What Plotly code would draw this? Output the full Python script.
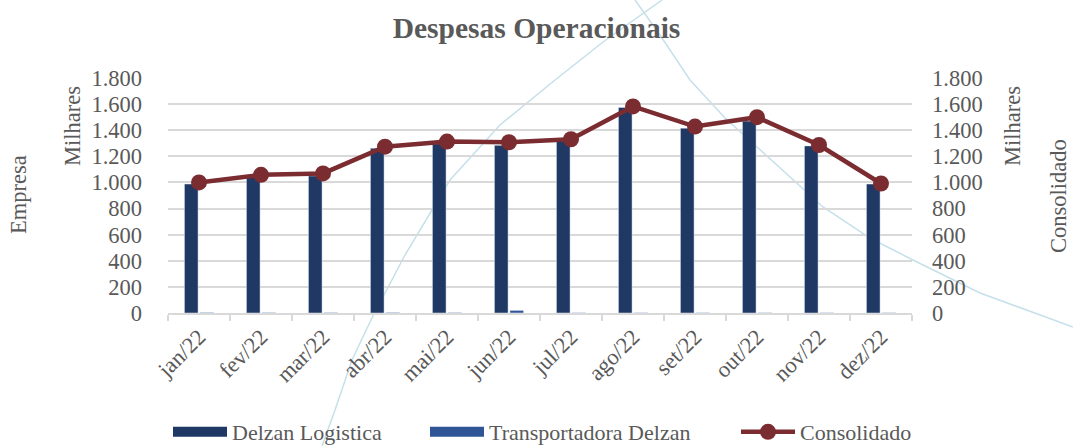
import plotly.graph_objects as go

months = ["jan/22", "fev/22", "mar/22", "abr/22", "mai/22", "jun/22",
          "jul/22", "ago/22", "set/22", "out/22", "nov/22", "dez/22"]
delzan_logistica = [988, 1040, 1050, 1262, 1297, 1284, 1315, 1575, 1416, 1470, 1280, 988]
transportadora_delzan = [4, 3, 3, 4, 3, 20, 2, 2, 2, 2, 2, 2]
consolidado = [1000, 1058, 1069, 1274, 1313, 1308, 1331, 1582, 1428, 1500, 1287, 992]
y_ticks = [0, 200, 400, 600, 800, 1000, 1200, 1400, 1600, 1800]

FONT = "Liberation Serif"
GREY = "#595959"
DARK = "#1F3864"
LIGHT = "#2F5597"
RED = "#7B2C30"
FS = 22.5
W, H = 1073, 446

fig = go.Figure()
fig.add_trace(go.Bar(x=months, y=delzan_logistica, name="Delzan Logistica",
                     marker_color=DARK, showlegend=False, legendgroup="a"))
fig.add_trace(go.Bar(x=months, y=transportadora_delzan, name="Transportadora Delzan",
                     marker_color=LIGHT, showlegend=False, legendgroup="b"))
# legend proxies (wide swatches)
fig.add_trace(go.Scatter(x=[None], y=[None], mode="lines", name="Delzan Logistica",
                         line=dict(color=DARK, width=12), legendgroup="a", legend="legend"))
fig.add_trace(go.Scatter(x=[None], y=[None], mode="lines", name="Transportadora Delzan",
                         line=dict(color=LIGHT, width=12), legendgroup="b", legend="legend2"))
fig.add_trace(go.Scatter(x=months, y=consolidado, name="Consolidado", yaxis="y2",
                         mode="lines+markers", line=dict(color=RED, width=4.5),
                         marker=dict(color=RED, size=16), legend="legend3"))

def px2paper(px, py):
    return (px - 168) / 744, (313 - py) / 235

def path(points):
    pts = [px2paper(x, y) for x, y in points]
    return "M " + " L ".join(f"{x:.4f},{y:.4f}" for x, y in pts)

curve1 = [(322, 446), (335, 410), (352, 360), (371, 320), (405, 255), (450, 180),
          (500, 125), (555, 80), (603, 42), (662, 0)]
curve2 = [(635, 0), (660, 35), (690, 80), (725, 118), (757, 147), (823, 207),
          (870, 238), (913, 260), (980, 293), (1073, 327)]

shapes = []
for c in (curve1, curve2):
    shapes.append(dict(type="path", path=path(c), xref="paper", yref="paper",
                       line=dict(color="#C5E0EA", width=1.5), layer="below"))

annotations = []
for text, (px, py) in [("Empresa", (18, 195)), ("Milhares", (72, 126)),
                       ("Milhares", (1012, 126)), ("Consolidado", (1058, 196))]:
    x, y = px2paper(px, py)
    annotations.append(dict(text=text, x=x, y=y, xref="paper", yref="paper",
                            showarrow=False, textangle=-90,
                            font=dict(family=FONT, size=FS, color=GREY),
                            xanchor="center", yanchor="middle"))

def legend_at(px):
    return dict(orientation="h", x=px / W, xanchor="left", xref="container",
                y=1 - 432 / H, yanchor="middle", yref="container",
                font=dict(family=FONT, size=22, color=GREY), itemwidth=54,
                bgcolor="rgba(0,0,0,0)")

fig.update_layout(
    width=W, height=H,
    margin=dict(l=168, r=161, t=78, b=133),
    paper_bgcolor="white", plot_bgcolor="white",
    separators=",.",
    font=dict(family=FONT, size=FS, color=GREY),
    title=dict(text="<b>Despesas Operacionais</b>", x=0.5, xanchor="center",
               y=1 - 28 / H, yanchor="middle", yref="container",
               font=dict(family=FONT, size=29.5, color=GREY)),
    barmode="group", bargap=0.5, bargroupgap=0.12,
    xaxis=dict(range=[-0.5, len(months) - 0.5], tickangle=-45, showline=True,
               linecolor="#D9D9D9", linewidth=1.5,
               ticks="outside", tickson="boundaries", ticklen=6, tickcolor="#D9D9D9",
               tickwidth=1.5, showgrid=False, automargin=False,
               tickfont=dict(family=FONT, size=FS, color=GREY)),
    yaxis=dict(range=[0, 1800], tickvals=y_ticks, tickformat=",d",
               showgrid=True, gridcolor="#D9D9D9", gridwidth=1.5, zeroline=False,
               ticks="", ticklabelstandoff=25, automargin=False,
               tickfont=dict(family=FONT, size=FS, color=GREY)),
    yaxis2=dict(range=[0, 1800], tickvals=y_ticks, tickformat=",d", overlaying="y",
                side="right", showgrid=False, zeroline=False, ticks="",
                ticklabelstandoff=19, automargin=False,
                tickfont=dict(family=FONT, size=FS, color=GREY)),
    legend=legend_at(168), legend2=legend_at(425), legend3=legend_at(736),
    shapes=shapes, annotations=annotations,
)

fig.write_html("out.html", config={"displayModeBar": False},
               post_script="document.body.style.margin='0';")
